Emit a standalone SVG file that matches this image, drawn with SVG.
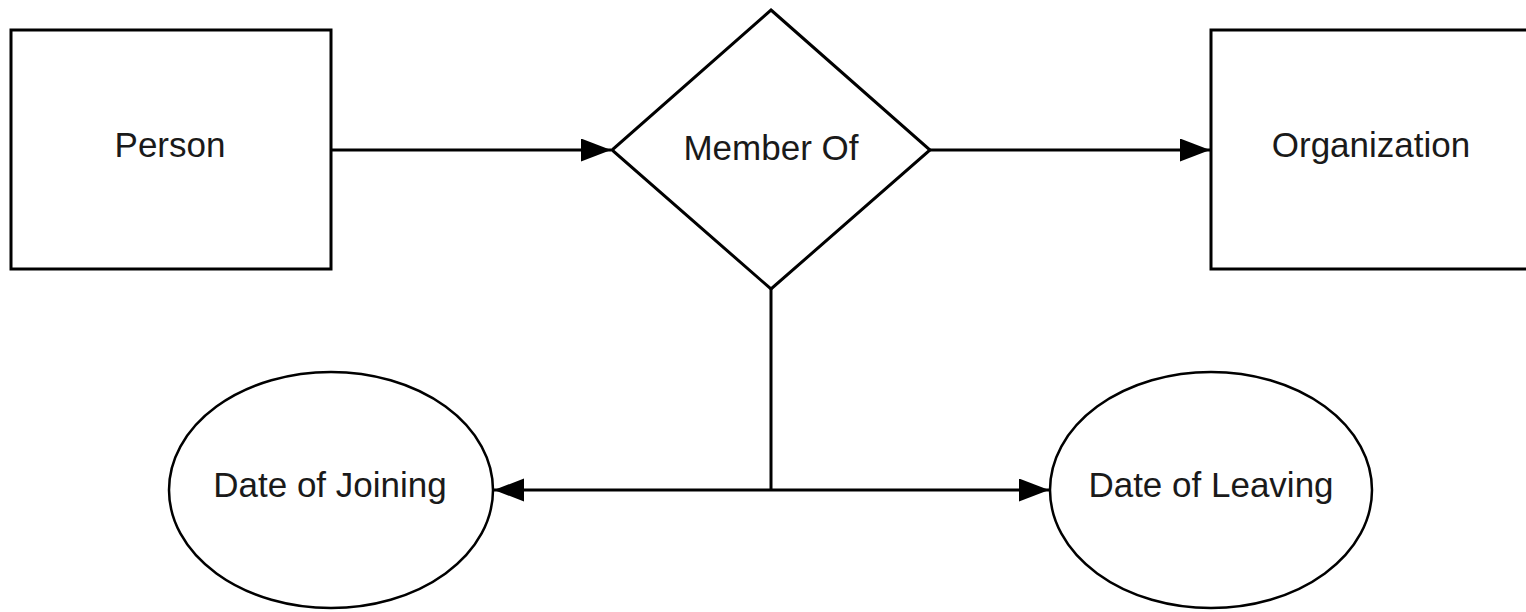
<svg xmlns="http://www.w3.org/2000/svg" width="1526" height="612" viewBox="0 0 1526 612">
  <style>
    .shape { fill: #ffffff; stroke: #000000; stroke-width: 3; }
    .oval { fill: #ffffff; stroke: #000000; stroke-width: 2.5; }
    .label { font-family: "Liberation Sans", Arial, sans-serif; font-size: 35px; fill: #1a1a1a; text-anchor: middle; }
    .conn { fill: none; stroke: #000000; stroke-width: 3; }
  </style>
  <defs>
    <marker id="arrow" markerUnits="userSpaceOnUse" markerWidth="32" markerHeight="24" refX="30" refY="11.5" orient="auto">
      <path d="M0,0 L30,11.5 L0,23 Z" fill="#000000"/>
    </marker>
  </defs>
  <rect width="1526" height="612" fill="#ffffff"/>
  <g id="connectors">
    <line class="conn" x1="331" y1="150" x2="611" y2="150" marker-end="url(#arrow)"/>
    <line class="conn" x1="930" y1="150" x2="1210" y2="150" marker-end="url(#arrow)"/>
    <line class="conn" x1="771" y1="289" x2="771" y2="490"/>
    <line class="conn" x1="771" y1="490" x2="494" y2="490" marker-end="url(#arrow)"/>
    <line class="conn" x1="771" y1="490" x2="1049" y2="490" marker-end="url(#arrow)"/>
  </g>
  <g id="person">
    <rect class="shape" x="11" y="30" width="320" height="239"/>
    <text class="label" x="170" y="157">Person</text>
  </g>
  <g id="member-of">
    <polygon class="shape" points="771,10 930,150 771,289 612,150"/>
    <text class="label" x="771" y="160">Member Of</text>
  </g>
  <g id="organization">
    <rect class="shape" x="1211" y="30" width="320" height="239"/>
    <text class="label" x="1371" y="157">Organization</text>
  </g>
  <g id="date-of-joining">
    <ellipse class="oval" cx="331" cy="490" rx="162" ry="118"/>
    <text class="label" x="330" y="497">Date of Joining</text>
  </g>
  <g id="date-of-leaving">
    <ellipse class="oval" cx="1211" cy="490" rx="161" ry="118"/>
    <text class="label" x="1211" y="497">Date of Leaving</text>
  </g>
</svg>
